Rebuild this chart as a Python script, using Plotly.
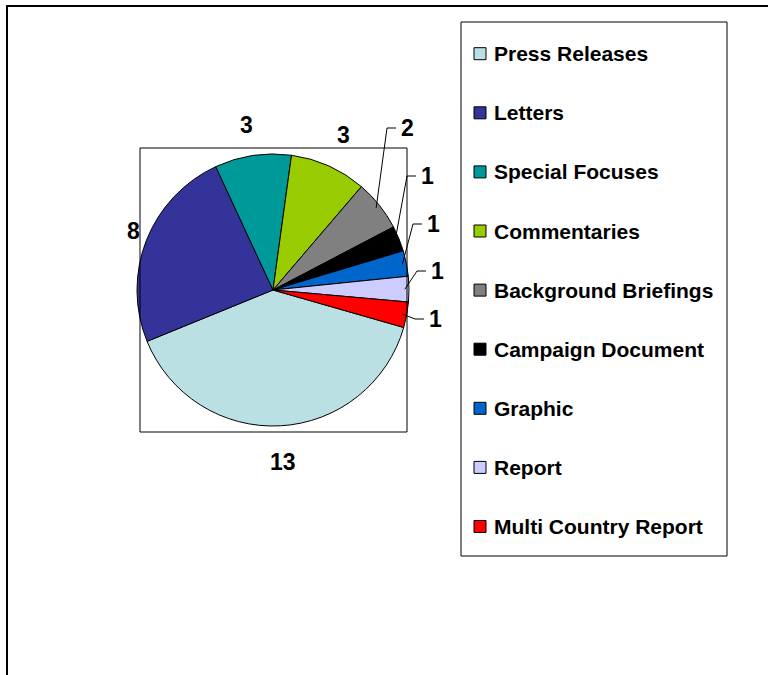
import math
import plotly.graph_objects as go

# ---- data ----
categories = ["Press Releases", "Letters", "Special Focuses", "Commentaries",
              "Background Briefings", "Campaign Document", "Graphic", "Report",
              "Multi Country Report"]
values = [13, 8, 3, 3, 2, 1, 1, 1, 1]
colors = ["#BBE0E3", "#333399", "#009999", "#99CC00", "#808080",
          "#000000", "#0066CC", "#CCCCFF", "#FF0000"]

# ---- layout constants (pixels) ----
W, H = 768, 675
CX, CY, R = 273, 290, 136
ROTATION = 106
FONT = "Liberation Sans, Arial, sans-serif"

# label centres (pixels) and whether a leader line is used
label_pos = [(283, 462), (133, 231), (246, 125), (343, 135), (407, 128),
             (427, 176), (433, 224), (437, 271), (435, 319)]
leader = [False, False, False, False, True, True, True, True, True]


def px(x):
    return x / W


def py(y):
    return 1 - y / H


fig = go.Figure()
fig.add_trace(go.Pie(
    labels=categories, values=values, sort=False, direction="clockwise",
    rotation=ROTATION, textinfo="none", hoverinfo="label+value",
    marker=dict(colors=colors, line=dict(color="black", width=1)),
    domain=dict(x=[px(CX - R), px(CX + R)], y=[py(CY + R), py(CY - R)]),
    showlegend=False,
))

shapes = []
annotations = []

# outer chart frame
shapes.append(dict(type="rect", xref="paper", yref="paper",
                   x0=px(7), x1=px(W + 10), y0=py(H + 10), y1=py(6),
                   line=dict(color="black", width=2)))
# plot-area box
shapes.append(dict(type="rect", xref="paper", yref="paper",
                   x0=px(140), x1=px(407), y0=py(432), y1=py(148),
                   line=dict(color="black", width=1)))

# data labels + leader lines (anchor computed from slice mid-angles)
total = sum(values)
cum = 0
for i, v in enumerate(values):
    mid = ROTATION + (cum + v / 2) / total * 360
    cum += v
    lx, ly = label_pos[i]
    annotations.append(dict(x=px(lx), y=py(ly), xref="paper", yref="paper",
                            text=f"<b>{v}</b>", showarrow=False,
                            font=dict(family=FONT, size=23, color="black"),
                            xanchor="center", yanchor="middle"))
    if leader[i]:
        a = math.radians(mid)
        sx = CX + R * 0.97 * math.sin(a)
        sy = CY - R * 0.97 * math.cos(a)
        ex = lx - 11
        bx = ex - 9
        path = f"M {px(sx)},{py(sy)} L {px(bx)},{py(ly)} L {px(ex)},{py(ly)}"
        shapes.append(dict(type="path", xref="paper", yref="paper", path=path,
                           line=dict(color="black", width=1)))

# legend (built manually for Excel-like spacing)
shapes.append(dict(type="rect", xref="paper", yref="paper",
                   x0=px(461), x1=px(727), y0=py(556), y1=py(22),
                   line=dict(color="black", width=1)))
for i, (name, col) in enumerate(zip(categories, colors)):
    yc = 53.7 + 59.1 * i
    shapes.append(dict(type="rect", xref="paper", yref="paper",
                       x0=px(474), x1=px(486), y0=py(yc + 6), y1=py(yc - 6),
                       fillcolor=col, line=dict(color="black", width=1)))
    annotations.append(dict(x=px(492), y=py(yc), xref="paper", yref="paper",
                            text=f"<b>{name}</b>", showarrow=False,
                            font=dict(family=FONT, size=21, color="black"),
                            xanchor="left", yanchor="middle"))

fig.update_layout(width=W, height=H, margin=dict(l=0, r=0, t=0, b=0),
                  paper_bgcolor="white", plot_bgcolor="white",
                  shapes=shapes, annotations=annotations, showlegend=False)

fig.write_html("out.html", config={"displayModeBar": False},
               post_script="document.body.style.margin='0';")
